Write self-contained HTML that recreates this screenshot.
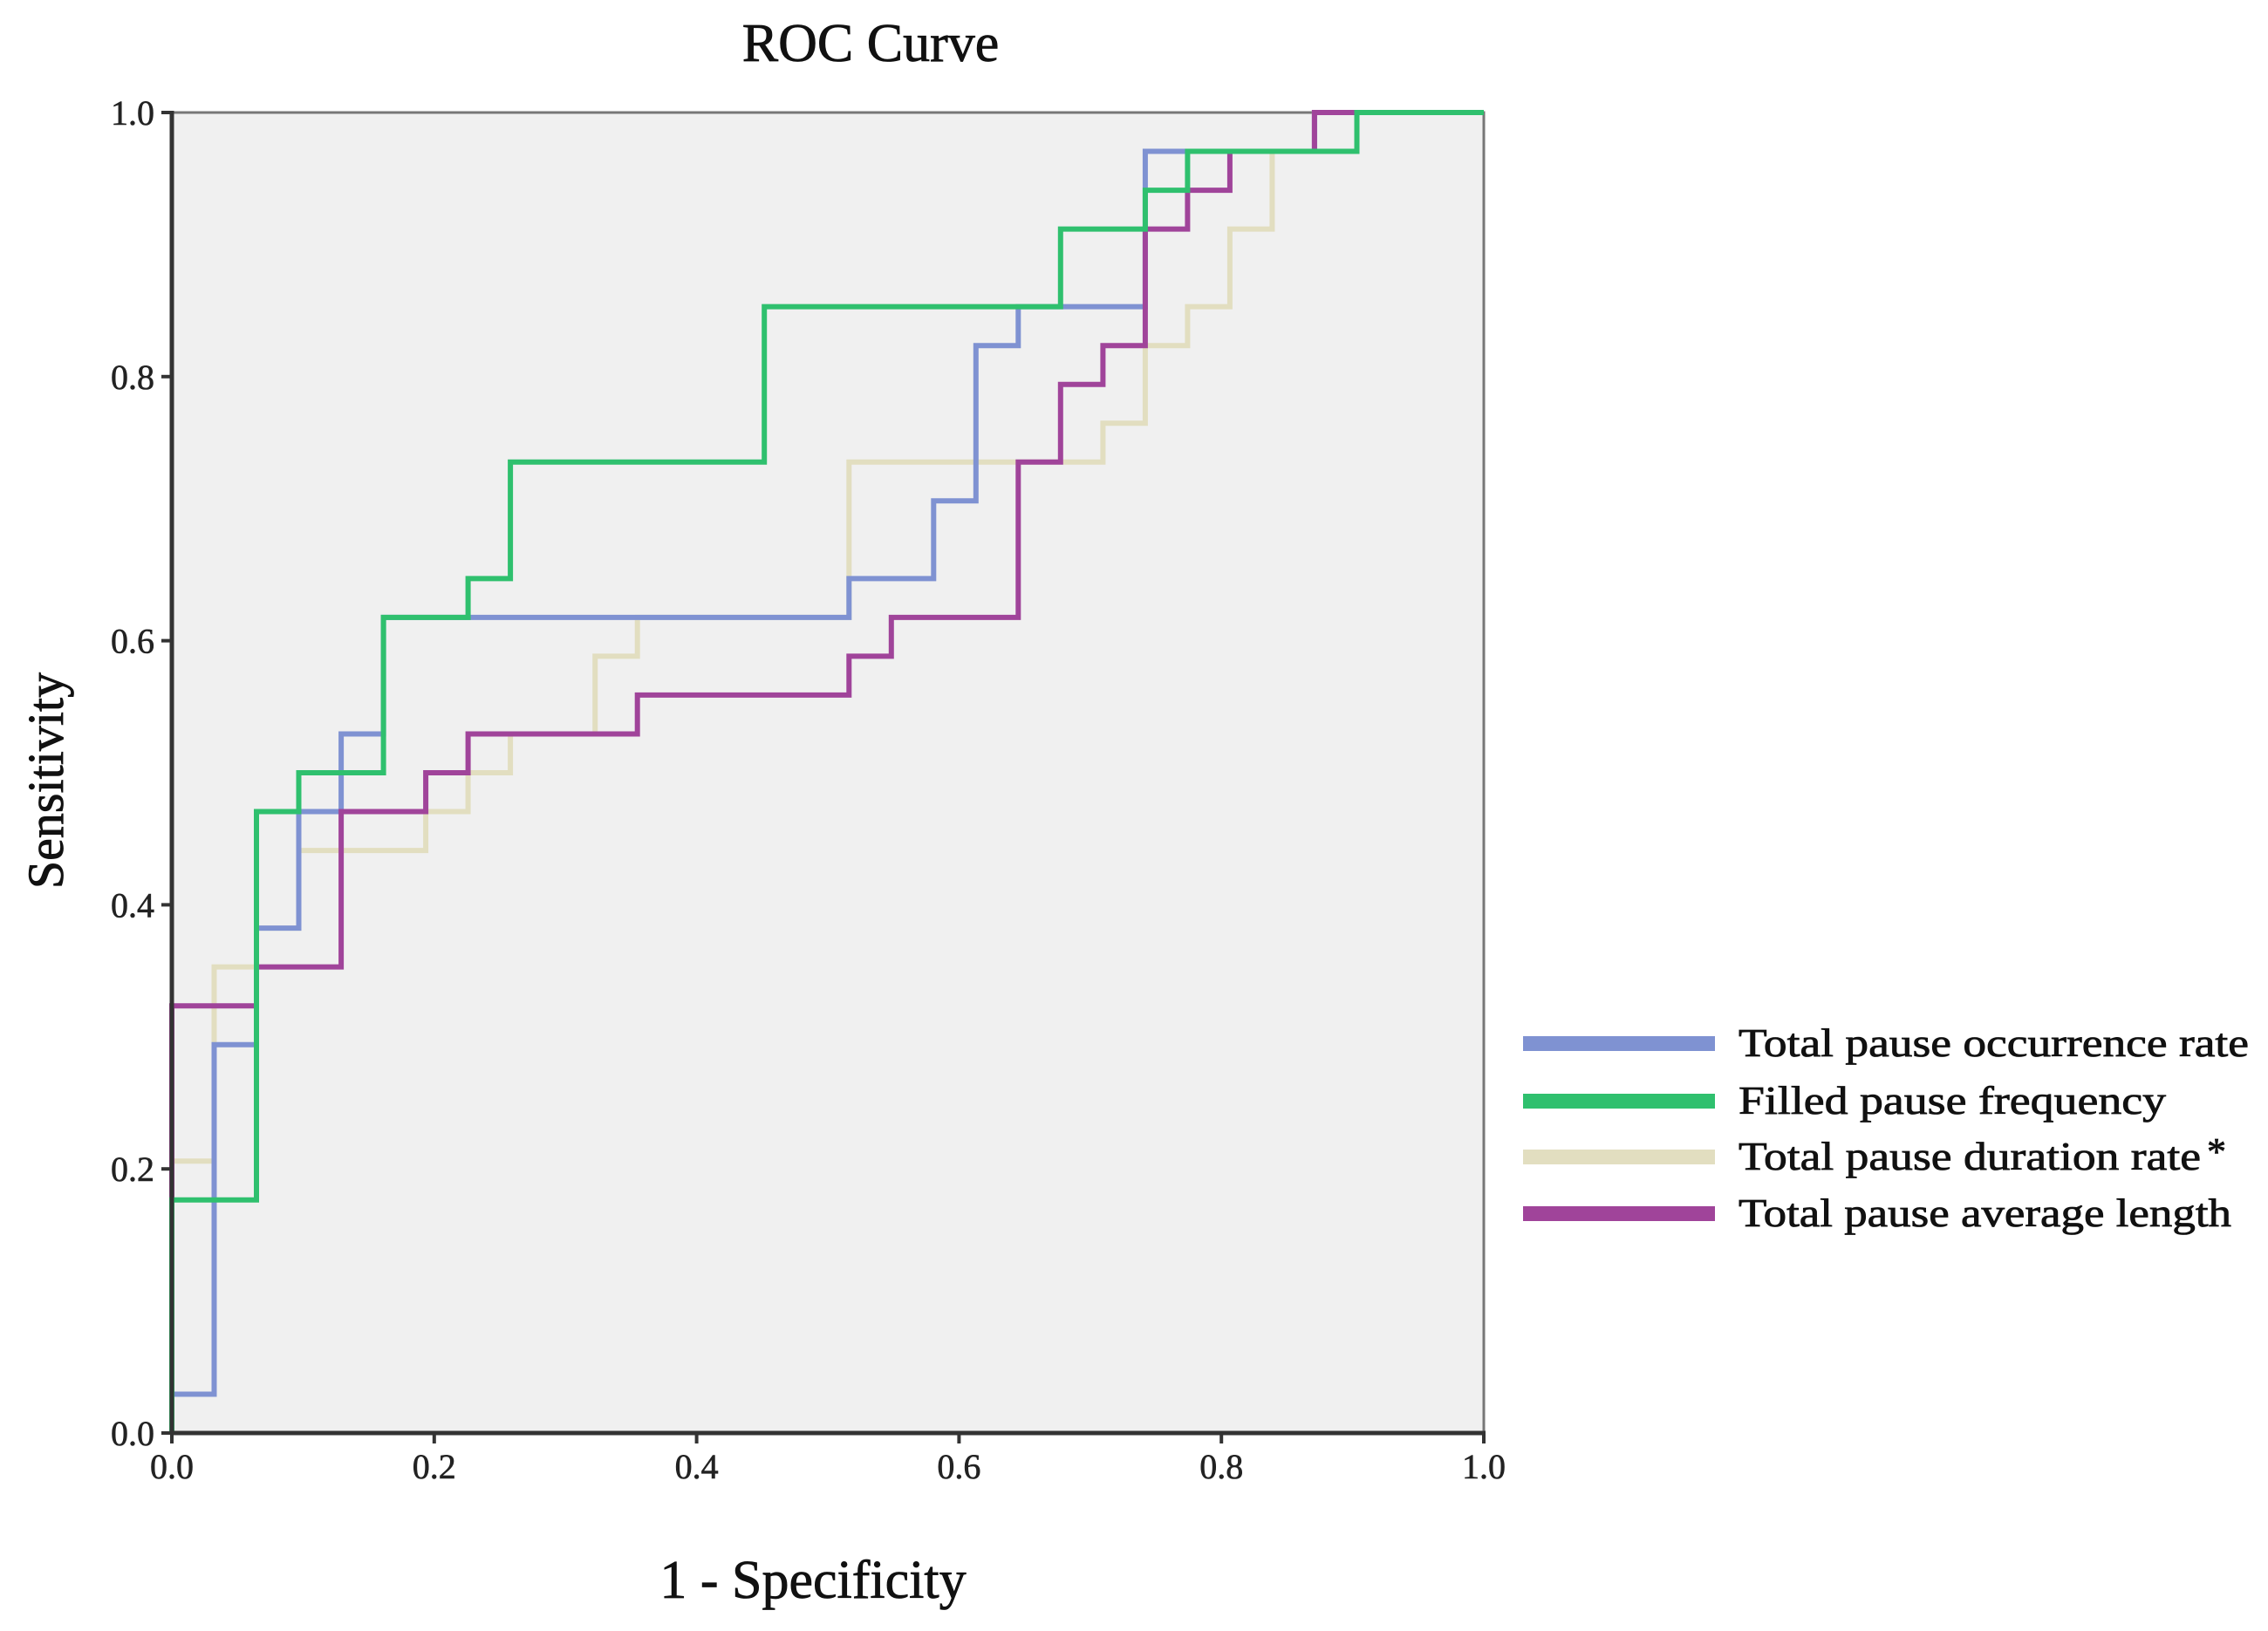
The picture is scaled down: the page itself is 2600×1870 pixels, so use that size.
<!DOCTYPE html>
<html><head><meta charset="utf-8"><style>
html,body{margin:0;padding:0;background:#fff;}
svg{display:block;font-family:"Liberation Serif",serif;}
</style></head><body>
<svg id="chart" width="2600" height="1870" viewBox="0 0 2600 1870" xmlns="http://www.w3.org/2000/svg">
<rect x="0" y="0" width="2600" height="1870" fill="#fff"/>
<text x="998" y="70" font-size="62" text-anchor="middle" fill="#111" stroke="#111" stroke-width="0.8">ROC Curve</text>
<rect x="197" y="129" width="1504" height="1514" fill="#f0f0f0" stroke="#777" stroke-width="3"/>
<g id="series"></g>
<line x1="197" y1="127" x2="197" y2="1645" stroke="#333" stroke-width="5"/>
<line x1="195" y1="1643" x2="1703" y2="1643" stroke="#333" stroke-width="5"/>
<g id="ticks" font-size="40" fill="#222" stroke="#222" stroke-width="0.6"></g>
<text transform="translate(72,895) rotate(-90)" font-size="58" text-anchor="middle" fill="#111" stroke="#111" stroke-width="0.8">Sensitivity</text>
<text x="932" y="1832" font-size="62" text-anchor="middle" fill="#111" stroke="#111" stroke-width="0.8">1 - Specificity</text>
<g id="legend" font-size="46" fill="#111" stroke="#111" stroke-width="0.8"></g>
</svg>
<script>
// ROC step points: x in units of 1/31 (1-specificity), y in units of 1/34 (sensitivity)
const xDen = 31, yDen = 34;
const seriesNames = ["Total pause occurrence rate","Filled  pause frequency","Total pause duration rate","Total pause average  length"];
const seriesColors = ["#7f92d2","#2fc06e","#e2dec0","#a0449a"];
const occurrenceX = [0,0,1,1,2,2,3,3,4,4,5,5,16,16,18,18,19,19,20,20,23,23,27,27,31];
const occurrenceY = [0,1,1,10,10,13,13,16,16,18,18,21,21,22,22,24,24,28,28,29,29,33,33,34,34];
const filledX = [0,0,2,2,3,3,5,5,7,7,8,8,14,14,21,21,23,23,24,24,28,28,31];
const filledY = [0,6,6,16,16,17,17,21,21,22,22,25,25,29,29,31,31,32,32,33,33,34,34];
const durationX = [0,0,1,1,2,2,3,3,6,6,7,7,8,8,10,10,11,11,16,16,22,22,23,23,24,24,25,25,26,26,27,27,31];
const durationY = [0,7,7,12,12,13,13,15,15,16,16,17,17,18,18,20,20,21,21,25,25,26,26,28,28,29,29,31,31,33,33,34,34];
const averageX = [0,0,2,2,4,4,6,6,7,7,11,11,16,16,17,17,20,20,21,21,22,22,23,23,24,24,25,25,27,27,31];
const averageY = [0,11,11,12,12,16,16,17,17,18,18,19,19,20,20,21,21,25,25,27,27,28,28,31,31,32,32,33,33,34,34];
const tickValues = [0,0.2,0.4,0.6,0.8,1.0];
const tickLabels = ["0.0","0.2","0.4","0.6","0.8","1.0"];

const X0=197, X1=1701, Y0=1643, Y1=129;
const sx = v => X0 + v*(X1-X0);
const sy = v => Y0 - v*(Y0-Y1);
const NS="http://www.w3.org/2000/svg";
const seriesX=[occurrenceX,filledX,durationX,averageX];
const seriesY=[occurrenceY,filledY,durationY,averageY];
const drawOrder=[2,0,3,1];
const g=document.getElementById('series');
const keys=["occurrence-rate","filled-frequency","duration-rate","average-length"];
drawOrder.forEach(i=>{
  const pts=seriesX[i].map((x,k)=>sx(x/xDen).toFixed(1)+","+sy(seriesY[i][k]/yDen).toFixed(1)).join(" ");
  const pl=document.createElementNS(NS,'polyline');
  pl.setAttribute('points',pts);
  pl.setAttribute('fill','none');
  pl.setAttribute('stroke',seriesColors[i]);
  pl.setAttribute('stroke-width','6');
  
  
  g.appendChild(pl);
});
const tg=document.getElementById('ticks');
tickValues.forEach((v,i)=>{
  const ly=document.createElementNS(NS,'line');
  ly.setAttribute('x1',X0-12);ly.setAttribute('x2',X0);ly.setAttribute('y1',sy(v));ly.setAttribute('y2',sy(v));
  ly.setAttribute('stroke','#333');ly.setAttribute('stroke-width','4');
  
  
  tg.appendChild(ly);
  const ty=document.createElementNS(NS,'text');
  ty.setAttribute('x',X0-20);ty.setAttribute('y',sy(v)+14);ty.setAttribute('text-anchor','end');
  ty.textContent=tickLabels[i];
  
  
  tg.appendChild(ty);
  const lx=document.createElementNS(NS,'line');
  lx.setAttribute('x1',sx(v));lx.setAttribute('x2',sx(v));lx.setAttribute('y1',Y0);lx.setAttribute('y2',Y0+12);
  lx.setAttribute('stroke','#333');lx.setAttribute('stroke-width','4');
  
  
  tg.appendChild(lx);
  const tx=document.createElementNS(NS,'text');
  tx.setAttribute('x',sx(v));tx.setAttribute('y',Y0+52);tx.setAttribute('text-anchor','middle');
  tx.textContent=tickLabels[i];
  
  
  tg.appendChild(tx);
});
const lg=document.getElementById('legend');
const legY=[1196,1262,1326,1391];
const legW=[585,490,530,565];
seriesNames.forEach((n,i)=>{
  const r=document.createElementNS(NS,'rect');
  r.setAttribute('x',1746);r.setAttribute('y',legY[i]-8);r.setAttribute('width',220);r.setAttribute('height',17);
  r.setAttribute('fill',seriesColors[i]);
  r.setAttribute('stroke','none');
  
  
  lg.appendChild(r);
  const t=document.createElementNS(NS,'text');
  t.setAttribute('x',1993);t.setAttribute('y',legY[i]+15);
  t.setAttribute('textLength',legW[i]);t.setAttribute('lengthAdjust','spacingAndGlyphs');
  t.textContent=n;
  
  
  lg.appendChild(t);
});
const st=document.createElementNS(NS,'text');
st.setAttribute('x',2530);st.setAttribute('y',1335);st.setAttribute('font-size','44');
st.textContent='*';


lg.appendChild(st);
</script>
</body></html>
